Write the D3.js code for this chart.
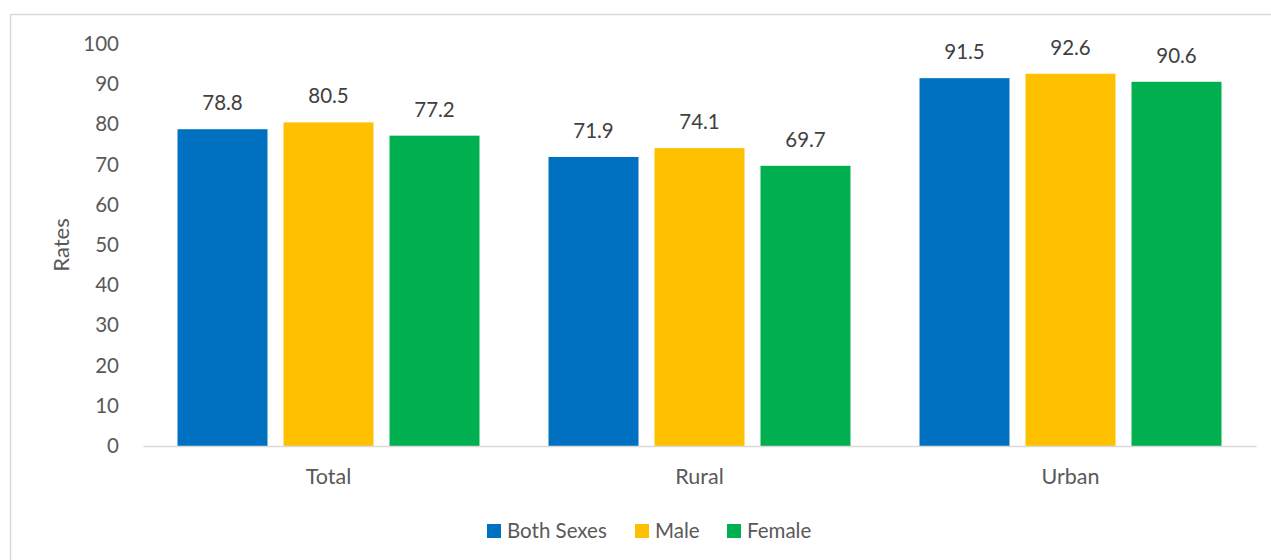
<!DOCTYPE html>
<html><head><meta charset="utf-8">
<script src="https://cdn.jsdelivr.net/npm/d3@7"></script>
<style>body{margin:0;background:#fff;}svg{display:block;font-family:Lato,"Open Sans",sans-serif;}</style>
</head><body>
<svg id="c" width="1271" height="560"></svg>
<script>
const categories = ["Total", "Rural", "Urban"];
const seriesNames = ["Both Sexes", "Male", "Female"];
const bothSexes = [78.8, 71.9, 91.5];
const male = [80.5, 74.1, 92.6];
const female = [77.2, 69.7, 90.6];
const yTicks = [0, 10, 20, 30, 40, 50, 60, 70, 80, 90, 100];
const colors = ["#0070C0", "#FFC000", "#00B050"];

const values = [bothSexes, male, female];
const svg = d3.select("#c");
const textColor = "#595959";
const fs = "20.5px";

// chart border
svg.append("rect").attr("x", 10.5).attr("y", 14.5).attr("width", 1275).attr("height", 560)
  .attr("fill", "none").attr("stroke", "#D9D9D9").attr("stroke-width", 1.5);

const x0 = d3.scaleBand().domain(categories).range([143, 1256]).paddingInner(0.186).paddingOuter(0.093);
const x1 = d3.scaleBand().domain(seriesNames).range([0, x0.bandwidth()]).paddingInner(0.151).paddingOuter(0);
const y = d3.scaleLinear().domain([0, 100]).range([446, 44]);

// y axis labels
const yAxis = d3.axisLeft(y).tickValues(yTicks).tickSize(0).tickPadding(0);
const gy = svg.append("g").attr("transform", "translate(119,0)").call(yAxis);
gy.select(".domain").remove();
gy.selectAll("text").attr("fill", textColor).style("font-size", fs).style("font-family", "Lato,'Open Sans',sans-serif");

// bars
const groups = svg.append("g").selectAll("g").data(categories).join("g")
  .attr("transform", d => `translate(${x0(d)},0)`);
groups.each(function(cat, ci) {
  const g = d3.select(this);
  seriesNames.forEach((s, si) => {
    const v = values[si][ci];
    g.append("rect").attr("x", x1(s)).attr("y", y(v)).attr("width", x1.bandwidth())
      .attr("height", y(0) - y(v)).attr("fill", colors[si]);
    g.append("text").attr("x", x1(s) + x1.bandwidth() / 2).attr("y", y(v) - 19)
      .attr("text-anchor", "middle").attr("fill", "#404040").style("font-size", fs)
      .text(v.toFixed(1));
  });
});

// x axis
const xAxis = d3.axisBottom(x0).tickSize(0).tickPadding(0);
const gx = svg.append("g").attr("transform", "translate(0,446)").call(xAxis);
gx.select(".domain").attr("stroke", "#D9D9D9").attr("stroke-width", 1.5);
gx.selectAll("text").attr("fill", textColor).attr("dy", "0").attr("y", 38)
  .style("font-size", "21.5px").style("font-family", "Lato,'Open Sans',sans-serif");

// y title
svg.append("text").attr("transform", "translate(69,245) rotate(-90)").attr("text-anchor", "middle")
  .attr("fill", textColor).style("font-size", "22px").text("Rates");

// legend
const legendX = [487, 635, 727];
const lg = svg.append("g");
seriesNames.forEach((s, i) => {
  lg.append("rect").attr("x", legendX[i]).attr("y", 524).attr("width", 14).attr("height", 14).attr("fill", colors[i]);
  lg.append("text").attr("x", legendX[i] + 20).attr("y", 538).attr("fill", textColor)
    .style("font-size", fs).text(s);
});
</script>
</body></html>
